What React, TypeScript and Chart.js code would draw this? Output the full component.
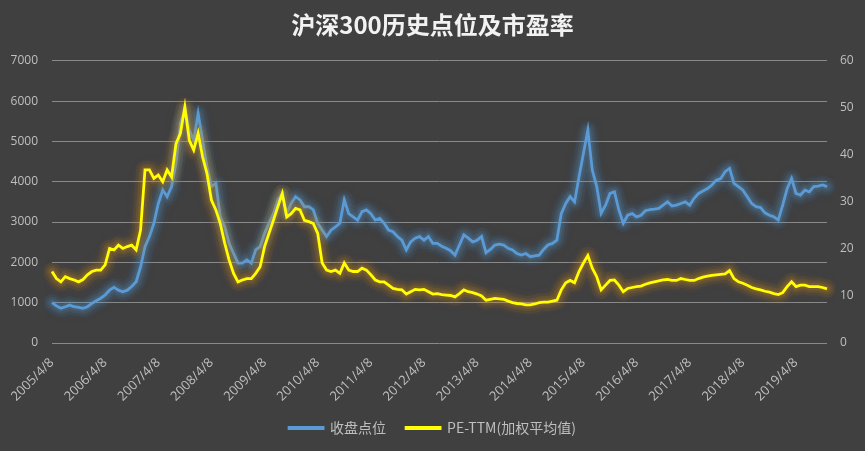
import React, { useEffect, useRef } from 'react';
import { Chart, registerables } from 'chart.js';

Chart.register(...registerables);

const TITLE = '沪深300历史点位及市盈率';
const SERIES_CLOSE = '收盘点位';
const SERIES_PE = 'PE-TTM(加权平均值)';

const TICK_LABELS = [
  '2005/4/8', '2006/4/8', '2007/4/8', '2008/4/8', '2009/4/8', '2010/4/8', '2011/4/8', '2012/4/8',
  '2013/4/8', '2014/4/8', '2015/4/8', '2016/4/8', '2017/4/8', '2018/4/8', '2019/4/8',
];

// monthly samples starting 2005/4/8
const CLOSE = [
  1000, 920, 860, 900, 940, 900, 885, 860, 900, 980, 1050, 1110,
  1190, 1310, 1380, 1310, 1270, 1310, 1400, 1520, 1890, 2390, 2640, 2970,
  3460, 3790, 3630, 3880, 4450, 5450, 5780, 5280, 5030, 5690, 5030, 4370,
  3880, 3960, 3130, 2880, 2470, 2220, 1980, 1980, 2060, 1980, 2310, 2390,
  2720, 2970, 3210, 3550, 3710, 3210, 3460, 3630, 3550, 3380, 3380, 3300,
  2970, 2800, 2640, 2800, 2880, 2970, 3550, 3210, 3130, 3050, 3260, 3300,
  3210, 3050, 3090, 2970, 2800, 2760, 2640, 2550, 2310, 2510, 2600, 2640,
  2550, 2640, 2470, 2470, 2400, 2350, 2290, 2180, 2430, 2680, 2600, 2510,
  2550, 2640, 2240, 2320, 2430, 2450, 2430, 2350, 2310, 2220, 2180, 2220,
  2140, 2160, 2180, 2320, 2430, 2470, 2550, 3210, 3460, 3630, 3500, 4120,
  4700, 5280, 4290, 3880, 3220, 3420, 3710, 3750, 3300, 2970, 3170, 3210,
  3130, 3170, 3280, 3310, 3320, 3340, 3420, 3500, 3400, 3420, 3460, 3500,
  3420, 3590, 3710, 3770, 3830, 3920, 4040, 4080, 4250, 4330, 3960, 3880,
  3790, 3630, 3460, 3380, 3360, 3230, 3170, 3130, 3050, 3420, 3830, 4080,
  3710, 3670, 3790, 3750, 3880, 3890, 3920, 3880,
];

const PE = [
  15.2, 13.7, 13.0, 14.1, 13.7, 13.4, 13.0, 13.5, 14.5, 15.2, 15.5, 15.5,
  16.6, 20.1, 19.8, 20.8, 20.1, 20.5, 20.8, 19.8, 24.0, 36.8, 36.8, 35.0,
  35.7, 34.3, 36.8, 35.3, 42.4, 44.6, 50.2, 43.1, 41.0, 44.6, 39.6, 36.0,
  30.4, 28.3, 25.4, 21.2, 17.6, 14.8, 13.0, 13.4, 13.7, 13.7, 14.8, 16.2,
  20.5, 23.3, 26.1, 29.0, 31.8, 26.8, 27.5, 28.6, 28.3, 26.1, 25.8, 25.4,
  23.3, 17.0, 15.5, 15.2, 15.5, 14.8, 17.0, 15.5, 15.2, 15.2, 15.9, 15.5,
  14.5, 13.4, 13.0, 13.0, 12.3, 11.6, 11.4, 11.3, 10.4, 10.9, 11.4, 11.3,
  11.4, 10.9, 10.4, 10.5, 10.3, 10.2, 10.1, 9.8, 10.5, 11.3, 10.9, 10.7,
  10.4, 10.0, 9.1, 9.3, 9.5, 9.4, 9.3, 8.9, 8.6, 8.4, 8.3, 8.1,
  8.1, 8.3, 8.6, 8.7, 8.7, 8.9, 9.1, 11.3, 12.8, 13.3, 12.8, 15.2,
  17.0, 18.6, 15.9, 14.1, 11.3, 12.3, 13.3, 13.4, 12.3, 10.9, 11.6, 11.8,
  12.0, 12.1, 12.5, 12.8, 13.0, 13.2, 13.4, 13.5, 13.3, 13.3, 13.7, 13.5,
  13.3, 13.3, 13.7, 14.0, 14.2, 14.4, 14.5, 14.6, 14.7, 15.4, 13.7, 13.0,
  12.7, 12.3, 11.8, 11.5, 11.3, 11.0, 10.8, 10.5, 10.3, 10.7, 12.0, 13.0,
  12.0, 12.3, 12.3, 12.0, 12.0, 12.0, 11.8, 11.5,
];

const CATEGORIES: string[] = CLOSE.map((_, i) => {
  const t = 2005 * 12 + 3 + i;
  return `${Math.floor(t / 12)}/${(t % 12) + 1}/8`;
});

const BG = '#404040';
const TEXT = '#BFBFBF';
const GRID = '#8a8a8a';
const CJK = "'Noto Sans CJK SC', sans-serif";
const NUM = "'Open Sans', sans-serif";

// soft halo drawn under each line, along the points the library computed
const glowPlugin = {
  id: 'glow',
  beforeDatasetDraw(chart: any, args: any) {
    const ds: any = chart.data.datasets[args.index];
    const pts = args.meta.data;
    if (!pts || !pts.length) return;
    const ctx = chart.ctx;
    const area = chart.chartArea;
    ctx.save();
    ctx.beginPath();
    ctx.rect(area.left - 8, area.top - 8, area.width + 16, area.height + 16);
    ctx.clip();
    ctx.lineJoin = 'round';
    ctx.lineCap = 'round';
    const passes = [
      { w: 18, a: 0.07 },
      { w: 12, a: 0.1 },
      { w: 7, a: 0.14 },
    ];
    for (const p of passes) {
      ctx.beginPath();
      pts.forEach((pt: any, i: number) => {
        if (i === 0) ctx.moveTo(pt.x, pt.y);
        else ctx.lineTo(pt.x, pt.y);
      });
      ctx.strokeStyle = `rgba(${ds.glowRgb},${p.a})`;
      ctx.lineWidth = p.w;
      ctx.shadowColor = `rgba(${ds.glowRgb},0.5)`;
      ctx.shadowBlur = 12;
      ctx.stroke();
    }
    ctx.restore();
  },
};

export default function App() {
  const ref = useRef<HTMLCanvasElement | null>(null);

  useEffect(() => {
    document.body.style.margin = '0';
    const canvas = ref.current;
    if (!canvas) return;
    const chart = new Chart(canvas, {
      type: 'line',
      data: {
        labels: CATEGORIES,
        datasets: [
          {
            label: SERIES_CLOSE,
            data: CLOSE,
            yAxisID: 'y',
            borderColor: '#5B9BD5',
            backgroundColor: '#5B9BD5',
            borderWidth: 2.8,
            pointRadius: 0,
            tension: 0,
            order: 2,
            glowRgb: '91,155,213',
          } as any,
          {
            label: SERIES_PE,
            data: PE,
            yAxisID: 'y1',
            borderColor: '#FFFF00',
            backgroundColor: '#FFFF00',
            borderWidth: 2.8,
            pointRadius: 0,
            tension: 0,
            order: 1,
            glowRgb: '230,150,30',
          } as any,
        ],
      },
      options: {
        responsive: false,
        animation: false,
        layout: { padding: { left: 0, right: 0, top: 0, bottom: 6 } },
        plugins: {
          title: {
            display: true,
            text: TITLE,
            color: '#F2F2F2',
            font: { family: CJK, size: 24, weight: 'bold' },
            padding: { top: 10, bottom: 22 },
          },
          legend: {
            position: 'bottom',
            labels: {
              color: TEXT,
              font: { family: CJK, size: 14 },
              boxWidth: 34,
              boxHeight: 1,
              padding: 20,
              sort: (a: any, b: any) => a.datasetIndex - b.datasetIndex,
            },
          },
          tooltip: { enabled: false },
        },
        scales: {
          x: {
            type: 'category',
            grid: { display: false },
            border: { display: false },
            ticks: {
              autoSkip: false,
              maxRotation: 45,
              minRotation: 45,
              color: TEXT,
              padding: 4,
              font: { family: NUM, size: 13 },
              callback: (_v: any, i: number) => {
                const l = CATEGORIES[i];
                return TICK_LABELS.includes(l) ? l : '';
              },
            },
            afterFit: (s: any) => {
              s.height = 58;
            },
          },
          y: {
            position: 'left',
            min: 0,
            max: 7000,
            ticks: {
              stepSize: 1000,
              color: TEXT,
              padding: 14,
              font: { family: NUM, size: 12 },
              callback: (v: any) => String(v),
            },
            grid: { color: GRID, drawTicks: false },
            border: { display: false },
            afterFit: (s: any) => {
              s.width = 52;
            },
          },
          y1: {
            position: 'right',
            min: 0,
            max: 60,
            ticks: {
              stepSize: 10,
              color: TEXT,
              padding: 13,
              font: { family: NUM, size: 12 },
              callback: (v: any) => String(v),
            },
            grid: { drawOnChartArea: false, drawTicks: false },
            border: { display: false },
            afterFit: (s: any) => {
              s.width = 38;
            },
          },
        },
      } as any,
      plugins: [glowPlugin],
    });
    return () => chart.destroy();
  }, []);

  return (
    <div style={{ position: 'absolute', left: 0, top: 0, width: 865, height: 451, background: BG }}>
      <canvas ref={ref} width={865} height={451} />
    </div>
  );
}
